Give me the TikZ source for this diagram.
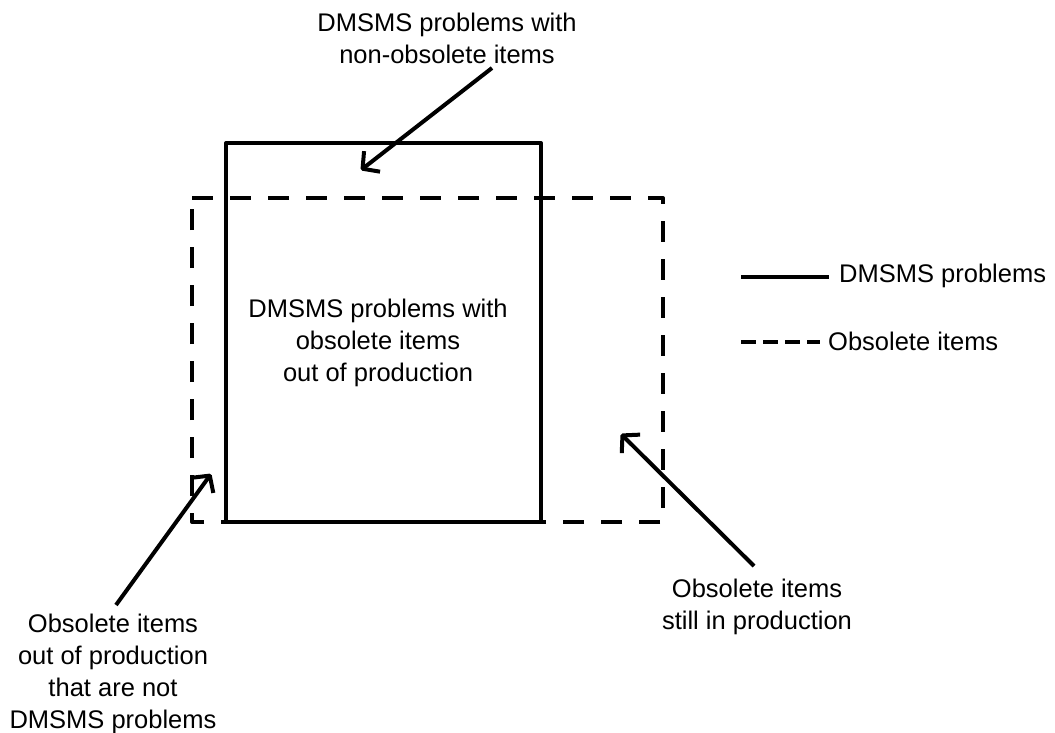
\documentclass[tikz,border=0pt]{standalone}
\usepackage{fontspec}
\setmainfont{Liberation Sans}
\usetikzlibrary{arrows.meta}
\begin{document}
\begin{tikzpicture}[x=1pt,y=-1pt,
  note/.style={align=center,inner sep=0pt,font=\fontsize{25.5}{32}\selectfont},
  solidline/.style={line width=4pt,line join=round},
  dashline/.style={line width=4pt,line join=round,dash pattern=on 21pt off 17pt},
  legdash/.style={line width=4pt,dash pattern=on 15pt off 7pt},
  pointer/.style={line width=4pt,-{Straight Barb[length=12pt,width=26pt,line join=round]}}]
\useasboundingbox (0,0) rectangle (1055,732);
\draw[dashline] (192,198) -- (663,198) -- (663,522) -- (192,522) -- cycle;
\draw[solidline] (226,143) rectangle (541,522);
\node[note] (topnote) at (447,38) {DMSMS problems with\\non-obsolete items};
\node[note] (midnote) at (378,343) {DMSMS problems with\\obsolete items\\out of production};
\node[note] (leftnote) at (113,674) {Obsolete items\\out of production\\that are not\\DMSMS problems};
\node[note] (rightnote) at (757,607) {Obsolete items\\still in production};
\coordinate (t1) at (492,68);
\coordinate (h1) at (361,170);
\coordinate (t2) at (116,605);
\coordinate (h2) at (211,474);
\coordinate (t3) at (754,566);
\coordinate (h3) at (621,434);
\path[draw,pointer] (t1) -- (h1);
\path[draw,pointer] (t2) -- (h2);
\path[draw,pointer] (t3) -- (h3);
\coordinate (s1) at (741,277);
\coordinate (s2) at (829,277);
\coordinate (d1) at (741,342);
\coordinate (d2) at (820,342);
\path[draw,solidline] (s1) -- (s2);
\path[draw,legdash] (d1) -- (d2);
\node[note,anchor=west] (legsolid) at (839,276) {DMSMS problems};
\node[note,anchor=west] (legdashed) at (828,341) {Obsolete items};
\end{tikzpicture}
\end{document}
